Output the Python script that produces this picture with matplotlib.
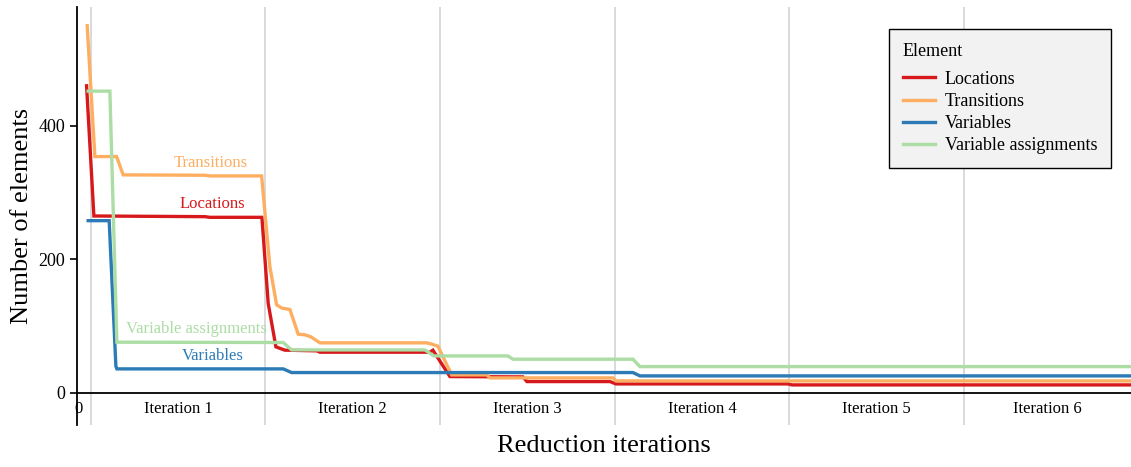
## import libraries
import matplotlib
matplotlib.use("Agg")
import matplotlib.pyplot as plt

plt.rcParams['font.family'] = ['Liberation Serif', 'DejaVu Serif']

## data (x in iteration units, y = number of elements)
loc_x = [-0.0246, 0.0172, 0.6529, 0.6816, 0.9794, 1.0155, 1.0596, 1.1111, 1.1226, 1.2944, 1.3116,
         1.9416, 1.9588, 2.0561, 2.4742, 2.4971, 2.9725, 3.0069, 3.9920, 4.0149, 5.9565]
loc_y = [460, 265, 264, 263, 263, 134, 69, 64, 64, 63, 61,
         61, 64, 24.5, 24, 17, 17, 13.5, 13.5, 12, 12]

tr_x = [-0.0212, 0.0229, 0.1472, 0.1850, 0.6529, 0.6816, 0.9777, 1.0252, 1.0636, 1.0939, 1.1397,
        1.1873, 1.2257, 1.2600, 1.3116, 1.9244, 1.9530, 1.9874, 2.0659, 2.2680, 2.2852, 2.9897, 3.0069, 5.9565]
tr_y = [550, 354, 354, 326.6, 326, 325, 325, 189, 132, 127, 125,
        88, 87, 84, 75, 75, 73, 70, 27, 27, 22.5, 22.5, 18, 18]

var_x = [-0.0155, 0.1048, 0.1432, 0.1489, 1.1014, 1.1495, 3.1042, 3.1443, 5.9565]
var_y = [258, 258, 40, 36, 36, 30.5, 30.5, 25.5, 25.5]

asg_x = [-0.0155, 0.1088, 0.1489, 1.1014, 1.1495, 1.9129, 1.9645, 2.3883, 2.4170, 3.1042, 3.1443, 5.9565]
asg_y = [452, 452, 76, 75.5, 64.4, 64.4, 55.4, 55.4, 50.5, 50.5, 39.4, 39.4]

series = ["Locations", "Transitions", "Variables", "Variable assignments"]
colors = ["#d7191c", "#fdae61", "#2c7bb6", "#abdda4"]
iterations = ["Iteration 1", "Iteration 2", "Iteration 3", "Iteration 4", "Iteration 5", "Iteration 6"]
boundaries = [0, 1, 2, 3, 4, 5]

## inline label positions
label_x = [0.693, 0.687, 0.699, 0.607]
label_y = [283, 344.6, 55.4, 95.9]

xmin, xmax = -0.080, 5.9565

fg = plt.figure(figsize=(11.31, 4.67), dpi=100)
ax = fg.add_axes([0.068, 0.09, 0.932, 0.895])

for b in boundaries:
    ax.axvline(b, color="#d9d9d9", lw=1.4, zorder=0)

xs = [loc_x, tr_x, var_x, asg_x]
ys = [loc_y, tr_y, var_y, asg_y]
for x, y, name, c in zip(xs, ys, series, colors):
    ax.plot(x, y, color=c, lw=2.4, label=name, solid_joinstyle="miter")
for lx, ly, name, c in zip(label_x, label_y, series, colors):
    ax.text(lx, ly, name, color=c, fontsize=12, ha="center", va="center")

ax.set_xlim(xmin, xmax)
ax.set_ylim(-48, 578)

## axes styling
ax.spines['top'].set_visible(False)
ax.spines['right'].set_visible(False)
ax.spines['bottom'].set_position(('data', 0))
ax.spines['bottom'].set_linewidth(1.3)
ax.spines['left'].set_linewidth(1.3)

ax.set_yticks([0, 200, 400])
ax.tick_params(axis='y', labelsize=13, length=5, width=1.2)

mids = [(boundaries[i] + (boundaries[i + 1] if i + 1 < len(boundaries) else xmax)) / 2
        for i in range(len(boundaries))]
ax.set_xticks([-0.0687])
ax.set_xticklabels(["0"])
ax.set_xticks(mids, minor=True)
ax.set_xticklabels(iterations, minor=True)
ax.tick_params(axis='x', which='both', length=0, labelsize=12, pad=6)

ax.set_ylabel("Number of elements", fontsize=19)
ax.set_xlabel("Reduction iterations", fontsize=19)
ax.xaxis.set_label_coords(0.5, -0.025)

lg = ax.legend(title="Element", loc="upper right", bbox_to_anchor=(0.981, 0.947),
               borderaxespad=0, fontsize=13, title_fontsize=13, fancybox=False,
               framealpha=1, facecolor="#f2f2f2", edgecolor="black",
               handlelength=1.8, handletextpad=0.55, labelspacing=0.28,
               borderpad=0.75)
lg._legend_box.align = "left"
lg._legend_box.sep = 8
lg.get_frame().set_linewidth(1.0)

plt.savefig("out.png", dpi=100)
